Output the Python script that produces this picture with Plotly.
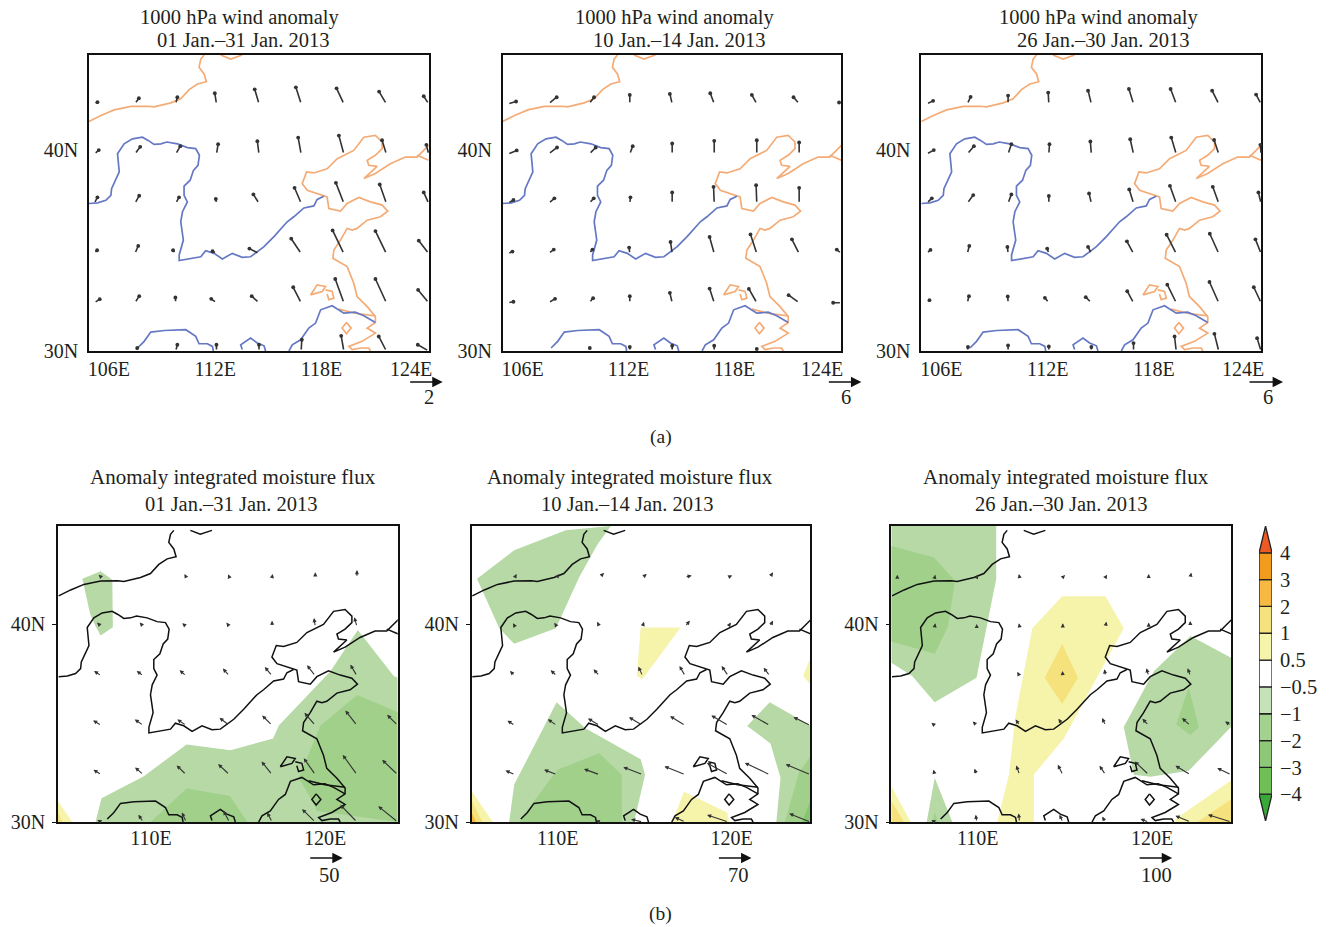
import plotly.graph_objects as go

W, H = 1330, 927
FIG_HEIGHT = 938
SERIF = "Liberation Serif"
INK = "#231f20"

# ---------- geography (lon, lat) ----------
BORDER_LON = [104.7,105.39,106.15,107.11,108.10,108.44,109.40,109.97,110.45,110.93,111.44,111.31,111.02,111.12,111.31]
BORDER_LAT = [41.42,41.72,42.0,42.17,42.18,42.15,42.35,42.55,43.01,43.29,43.40,43.79,44.12,44.53,44.73]
BORDER2_LON = [112.26,112.83,113.5]
BORDER2_LAT = [44.73,44.53,44.73]
COAST_LON = [124.2,123.53,122.86,122.0,121.14,120.48,121.24,120.76,120.67,121.14,121.53,121.53,121.14,120.48,119.9,118.95,118.37,117.61,117.19,116.94,117.23,118.18,118.37,118.47,119.14,119.52,120.19,120.86,121.53,121.85,121.43,120.67,120.09,119.81,119.52,119.14,118.76,118.7,119.52,119.9,120.09,120.67,121.14,121.14,120.67,121.14,120.38,119.62,119.81,120.29,120.76,120.86]
COAST_LAT = [40.23,39.65,39.65,39.32,38.83,38.58,39.19,39.24,39.49,39.74,40.07,40.4,40.73,40.64,39.98,39.57,39.07,38.86,38.91,38.33,38.0,37.75,37.67,37.09,36.96,37.34,37.64,37.42,37.26,36.96,36.68,36.51,36.1,36.02,36.1,35.52,35.02,34.61,34.2,33.37,32.71,32.21,31.72,31.42,31.14,30.89,30.48,30.23,30.07,30.15,30.15,30.0]
YALU_LON = [124.2,123.81,123.53]
YALU_LAT = [39.49,39.65,39.74]
ESTUARY_LON = [119.04,119.98,121.14]
ESTUARY_LAT = [32.08,31.88,31.75]
HONGZE_LON = [117.42,117.8,118.28,118.09,117.42]
HONGZE_LAT = [32.79,33.29,33.21,32.96,32.79]
GAOYOU_LON = [118.28,118.66,118.76,118.47,118.37]
GAOYOU_LAT = [33.04,32.96,32.63,32.55,32.84]
TAIHU_LON = [119.48,119.75,119.48,119.23,119.48]
TAIHU_LAT = [31.42,31.14,30.86,31.14,31.42]
YELLOW_R_LON = [104.7,105.2,105.67,105.96,106.0,106.34,106.44,106.34,106.72,107.2,107.77,108.1,108.44,108.83,109.17,109.78,110.35,110.83,111.04,110.96,110.7,110.51,110.16,110.16,110.35,110.07,109.97,110.12,109.88,109.88,110.45,111.12,111.4,111.88,112.36,112.93,113.5,113.98,114.75,115.32,116.08,116.46,117.04,117.61,117.8,118.18]
YELLOW_R_LAT = [37.34,37.37,37.5,37.75,38.08,38.66,38.91,39.82,40.31,40.56,40.64,40.48,40.28,40.31,40.4,40.31,40.12,40.07,39.74,39.24,38.99,38.5,38.21,37.75,37.42,36.93,36.43,35.52,34.78,34.5,34.58,34.69,34.99,34.86,34.58,34.86,34.66,34.69,35.19,35.69,36.43,36.68,37.12,37.22,37.54,37.7]
YANGTZE1_LON = [107.49,107.87,108.25,109.02,110.26,110.83,111.02,111.5,111.79,111.84]
YANGTZE1_LAT = [30.15,30.48,30.94,31.02,31.06,30.73,30.36,30.36,30.23,30.0]
YANGTZE2_LON = [113.5,113.41,113.98,114.36,114.75,114.84]
YANGTZE2_LAT = [30.07,30.31,30.64,30.4,30.26,30.0]
YANGTZE3_LON = [116.18,116.37,116.85,117.13,117.32,117.71,118.0,118.66,119.33,119.98,120.48,121.14]
YANGTZE3_LAT = [30.0,30.31,30.56,30.89,31.14,31.39,32.05,32.25,31.88,31.93,31.75,31.42]

RIVERS = [(YELLOW_R_LON,YELLOW_R_LAT),(YANGTZE1_LON,YANGTZE1_LAT),(YANGTZE2_LON,YANGTZE2_LAT),(YANGTZE3_LON,YANGTZE3_LAT)]
COASTS = [(BORDER_LON,BORDER_LAT),(BORDER2_LON,BORDER2_LAT),(COAST_LON,COAST_LAT),(YALU_LON,YALU_LAT),(ESTUARY_LON,ESTUARY_LAT),(HONGZE_LON,HONGZE_LAT),(GAOYOU_LON,GAOYOU_LAT),(TAIHU_LON,TAIHU_LAT)]

# ---------- wind grid ----------
GRID_LAT_A = [42.3,39.8,37.35,34.85,32.4,30.0]
GRID_LON_A = [105.0,107.34,109.68,112.02,114.46,116.88,119.33,121.77,124.2]
GRID_LAT_B = [42.36,39.87,37.38,34.88,32.39,30.0]
GRID_LON_B = [105.0,107.15,109.56,112.02,114.5,116.95,119.43,121.82,124.16]

U_A1 = [[.2,.24,.1,-.1,-.26,-.32,-.44,-.44,-.3],[.28,.32,.28,.1,-.1,-.18,-.3,-.26,-.14],[.2,.26,.2,-.04,-.34,-.4,-.48,-.4,-.3],[.18,.2,-.16,-.24,-.58,-.6,-.68,-.66,-.6],[.34,.26,-.02,-.32,-.44,-.48,-.52,-.66,-.64],[0,.14,.1,0,0,.04,-.16,-.46,-.66]]
V_A1 = [[.1,.34,.4,.64,.88,1.0,.94,.74,.46],[.24,.44,.48,.6,.78,1.0,1.12,.84,.56],[.36,.46,.36,.26,.54,.94,1.24,1.14,.66],[.2,.46,.2,.14,.3,.9,1.4,1.36,.78],[.22,.4,.32,.24,.4,.94,1.44,1.44,.78],[0,.18,.38,.38,.38,.68,.92,.88,.38]]
U_A2 = [[1.5,1.5,.9,0,-.42,-.72,-.9,-1.02,-.42],[1.62,1.56,1.2,.54,0,0,0,0,0],[1.02,1.08,.84,.12,0,-.12,-.12,0,0],[.84,.96,.6,-.12,-.3,-.84,-1.14,-1.32,-.84],[1.02,1.2,.72,0,-.42,-.84,-1.44,-1.92,-1.5],[0,0,.12,0,0,0,0,0,0]]
V_A2 = [[.42,1.2,1.2,1.62,1.8,1.92,1.62,1.2,.24],[.66,1.2,1.2,1.44,1.92,2.4,2.52,2.1,0],[.6,.9,.9,1.08,1.98,3.0,3.3,2.82,0],[.36,.72,.72,1.08,2.1,3.0,3.48,2.58,.72],[.18,.72,.84,1.2,1.8,2.58,2.52,1.38,0],[0,0,.54,.72,.96,.96,.36,0,0]]
U_A3 = [[1.2,.6,0,-.12,-.6,-.84,-1.02,-1.2,-.9],[1.32,1.2,.6,.12,-.18,-.6,-.9,-.84,-.12],[.96,1.08,.6,0,-.42,-.78,-1.14,-1.08,-.48],[.72,.36,-.12,-.3,-.6,-1.2,-1.74,-1.62,-1.02],[.54,.3,-.06,-.72,-1.02,-1.14,-1.62,-1.68,-1.32],[0,.12,0,0,0,0,-.3,-.78,-.72]]
V_A3 = [[.54,1.26,1.5,2.04,2.4,2.7,2.7,2.4,1.68],[.72,1.44,1.8,1.8,2.28,2.7,3.0,2.58,1.68],[.9,1.5,1.62,1.32,1.8,2.52,3.18,3.0,1.98],[.66,1.38,1.2,.9,1.2,2.22,3.42,3.6,2.58],[.48,1.2,1.14,.9,1.02,2.1,3.3,3.78,2.82],[0,.72,1.02,.84,.72,1.44,2.64,3.12,2.34]]

U_B1 = [[0,-4,-3,-2.5,-2,1,0,0,0],[0,-6.5,-5.5,-6,-4.5,0,-2,-4,0],[0,-11,-10,-10,-10,-11,-12.5,-10,-2],[0,-12.5,-13,-13.5,-15,-15,-16.5,-17.5,-16],[0,-12,-12.5,-14.5,-17,-16,-17.5,-21.5,-23.5],[0,-6,-7.5,-6.5,-9,-7.5,-20,-25,-29.5]]
V_B1 = [[0,4,3,5,4.5,5,7.5,11,0],[0,6,6,5,6,9,13,14,0],[0,7.5,7.5,8.5,11,13.5,16,17,2.5],[0,7.5,9,9,11.5,15,19,22.5,16],[0,7.5,11,14,16,20,25,30,22.5],[0,3,11,14.5,17,14.5,19.5,26,24]]
U_B2 = [[0,3.5,5.6,9.8,9,14,8.4,7,0],[0,-4,-5,-5,3,10,5.6,7,0],[0,-10.5,-13,-12.6,-9,-12,-14,-13,-3.5],[0,-16,-19,-24.5,-29,-32,-36,-39,-36],[0,-20,-27,-33,-41,-44,-45.5,-53,-52.5],[0,0,0,-8,-24.5,-22,-45,0,-45]]
V_B2 = [[0,7,7,9.1,7,4,4,10.5,0],[0,7,8,10,10,12.6,8.4,12.6,0],[0,10.5,12,14,19.6,21,21,17.5,3.5],[0,10,13,14.7,17.5,19.6,21,22,17.5],[0,9,10.5,12,16,17.5,25,25,22],[0,0,0,3,6,10,15,0,18]]
U_B3 = [[0,2,4,-2,7,5,0,3,0],[0,2,0,-2,0,3,0,0,0],[0,-6,-5,-7,-1,-3,-7,-8,0],[0,-10,-12,-12,-13,-10,-19,-25,-18],[0,-4,-7,-10,-15,-18,-42,-45,-42],[0,-10,-3,-3,-10,-10,-25,-45,-70]]
V_B3 = [[8,8,8,10,7,8,10,14,0],[0,10,8,10,10,15,12,17,0],[0,7,7,12,15,20,23,23,0],[0,8,12,18,20,22,20,22,12],[0,15,18,28,30,27,40,27,20],[0,6,22,26,22,16,9,19,22]]

# ---------- shaded anomaly regions (level, lons, lats) ----------
SHADE_B1 = [
 ("-1", [106.06,107.11,107.78,107.81,107.11,106.78,106.5], [42.28,42.66,42.23,39.83,39.42,39.95,40.53]),
 ("-1", [106.82,107.16,109.59,112.04,114.56,117.01,117.34,118.96,120.3,121.87,123.93,124.16,124.16], [30,31.2,32.31,33.92,33.62,34.22,34.88,36.38,37.62,39.7,37.38,37.29,30]),
 ("-2", [109.98,112.04,114.53,115.52], [30,31.69,31.31,30]),
 ("-2", [118.48,118.96,119.73,121.83,124.16,124.16,119.54,119.15], [32.23,33.22,34.88,36.41,35.55,30,30.56,31.23]),
 ("1", [104.66,105.48,104.66], [31.06,30,30]),
 ("2", [104.66,104.9,104.66], [30.5,30,30]),
]
SHADE_B2 = [
 ("-1", [104.97,107.11,110.08,112.67,111.9,110.85,109.51,107.11,106.25], [42.28,43.72,44.73,44.95,44.02,42.36,39.78,39.0,39.78]),
 ("-1", [106.82,107.11,109.55,111.23,114.39,114.64,114.01], [30,31.89,36.05,34.72,33.17,32.39,30]),
 ("-2", [107.4,108.26,109.6,112,113.3,113.3], [30,31.06,32.64,33.47,32.39,30]),
 ("1", [114.39,116.69,114.49,114.17], [39.82,39.82,37.21,37.38]),
 ("1", [104.66,105.87,104.66], [31.56,30,30]),
 ("2", [104.66,105.29,104.66], [31.06,30,30]),
 ("3", [104.66,104.91,104.66], [30.48,30,30]),
 ("1", [116.21,116.88,119.37,119.47], [30,31.53,30.48,30]),
 ("1", [124.16,123.74,124.16], [38.29,37.38,36.96]),
 ("-1", [120.52,121.82,124.16,124.16,122.2,122.44,121.86], [34.85,36.05,34.88,30,30,32.23,33.97]),
 ("-2", [124.16,123.49,122.69,124.16], [33.31,32.48,30,30]),
 ("-3", [124.16,123.68,124.16], [31.06,30,30]),
]
SHADE_B3 = [
 ("-1", [104.66,110.68,110.68,109.59,109.55,107.15,105.86,104.66], [44.95,44.95,42.28,37.54,37.29,36.05,37.38,38.04]),
 ("-2", [104.66,107.11,108.31,107.91,107.15,104.66], [43.94,43.36,42.19,39.87,38.5,39.12]),
 ("1", [110.74,111.41,111.79,112.75,114.47,116.95,118.0,114.56,112.84,112.84], [30,32.39,35.38,39.78,41.4,41.4,39.78,34.22,32.39,30]),
 ("2", [114.47,115.37,114.47,113.46], [38.99,37.29,35.96,37.29]),
 ("-1", [118.0,119.73,121.83,124.16,124.16,121.73,119.54,118.58], [34.8,37.62,39.4,38.29,34.8,32.59,32.28,32.39]),
 ("-2", [121.73,122.31,121.83,121.01], [36.79,34.8,34.39,34.92]),
 ("-1", [106.69,107.15,108.16], [30,32.23,30]),
 ("-2", [107.01,107.15,107.34], [30,30.48,30]),
 ("1", [104.66,105.77,104.66], [31.81,30,30]),
 ("2", [104.66,105.39,104.66], [31.06,30,30]),
 ("1", [120.97,124.16,124.16,120.97], [30.15,32.09,30,30]),
 ("2", [122.23,124.16,124.16], [30,31.15,30]),
]
LEVEL_COLORS = {"-3":"#85c670","-2":"#a0d08a","-1":"#b6d9a6","1":"#f6f3aa","2":"#f6e27c","3":"#f7bb42"}

# ---------- colour bar ----------
BAR_COLORS = ["#38a836","#6fbe56","#8cc878","#a3d18e","#c6e2b8","#ffffff","#f6f3aa","#f6e27c","#f7b942","#f39b1d","#ee5a24"]
BAR_LABELS = ["\u22124","\u22123","\u22122","\u22121","\u22120.5","0.5","1","2","3","4"]

# ---------- panels ----------
TITLE_A = "1000 hPa wind anomaly"
TITLE_B = "Anomaly integrated moisture flux"
PERIODS = ["01 Jan.\u201331 Jan. 2013","10 Jan.\u201314 Jan. 2013","26 Jan.\u201330 Jan. 2013"]
BOX_A = [(88,428),(502,841),(921,1261)]
BOX_B = [(57,397),(471,810),(891,1231)]
TICKS_A = [105.85,111.95,118.05]
TICKS_B = [[110,120],[109.62,119.63],[109.62,119.63]]
REF_A = [2,6,6]
REF_B = [50,70,100]
REF_PX = 33

fig = go.Figure()
ann = []

def px_x(px):
    return px / W

def px_y(py):
    return 1 - py / H

def txt(s, px, py, size=20.5, xa="center"):
    ann.append(dict(text=s, x=px_x(px), y=px_y(py), xref="paper", yref="paper", xanchor=xa, yanchor="middle",
                    showarrow=False, font=dict(family=SERIF, size=size, color=INK)))

def ref_arrow(x0, x1, py):
    ann.append(dict(text="", x=px_x(x1), y=px_y(py), ax=x0-x1, ay=0, xref="paper", yref="paper", axref="pixel", ayref="pixel",
                    showarrow=True, arrowhead=2, arrowsize=1.6, arrowwidth=1.3, arrowcolor="#111"))

def panel(n, box, ytop, ybot, lonr, latr, xt, xl, yticklen, standoff, xstandoff):
    dx = [px_x(box[0]), px_x(box[1])]
    dy = [px_y(ybot), px_y(ytop)]
    sfx = "" if n == 1 else str(n)
    common = dict(showgrid=False, zeroline=False, showline=True, linecolor="#111", linewidth=1.5, mirror=True,
                  tickfont=dict(family=SERIF, size=20, color=INK), ticks="outside", tickcolor="#111", tickmode="array")
    fig.update_layout(**{
        "xaxis"+sfx: dict(domain=dx, range=lonr, anchor="y"+sfx, tickvals=xt, ticktext=xl, ticklen=0,
                          ticklabelstandoff=xstandoff, **common),
        "yaxis"+sfx: dict(domain=dy, range=latr, anchor="x"+sfx, tickvals=[30,40], ticktext=["30N","40N"], ticklen=yticklen,
                          ticklabelstandoff=standoff, **common),
    })
    return "x"+sfx, "y"+sfx

def lines(xa, ya, groups, color, w=1.7):
    for lon, lat in groups:
        fig.add_trace(go.Scatter(x=lon, y=lat, xaxis=xa, yaxis=ya, mode="lines", showlegend=False, hoverinfo="skip",
                                 line=dict(color=color, width=w)))

def shades(xa, ya, regions):
    for lev, lon, lat in regions:
        fig.add_trace(go.Scatter(x=lon, y=lat, xaxis=xa, yaxis=ya, mode="lines", fill="toself", showlegend=False,
                                 hoverinfo="skip", fillcolor=LEVEL_COLORS[lev], line=dict(width=0, color=LEVEL_COLORS[lev])))

def quiver(xa, ya, lons, lats, U, V, ref, pxlat, head, size, width):
    ppu = REF_PX / ref
    for j, la in enumerate(lats):
        for i, lo in enumerate(lons):
            u, v = U[j][i], V[j][i]
            if u == 0 and v == 0:
                continue
            ann.append(dict(text="", x=lo + u*ppu/17.43, y=la + v*ppu/pxlat, ax=lo, ay=la,
                            xref=xa, yref=ya, axref=xa, ayref=ya, showarrow=True,
                            arrowhead=head, arrowsize=size, arrowwidth=width, arrowcolor="#333333"))

UV_A = [(U_A1,V_A1),(U_A2,V_A2),(U_A3,V_A3)]
UV_B = [(U_B1,V_B1),(U_B2,V_B2),(U_B3,V_B3)]
SHADES = [SHADE_B1,SHADE_B2,SHADE_B3]

for k in range(3):
    xa, ya = panel(k+1, BOX_A[k], 55, 351, [104.7,124.2], [30,44.73], TICKS_A, ["106E","112E","118E"], 0, 5, -1)
    lines(xa, ya, COASTS, "#f4ab75")
    lines(xa, ya, RIVERS, "#6478c4")
    quiver(xa, ya, GRID_LON_A, GRID_LAT_A, *UV_A[k], REF_A[k], 20.1, 6, 0.6, 1.6)
    txt(TITLE_A, [239,674,1098][k], 18)
    txt(PERIODS[k], [243,679,1103][k], 40)
    txt("124E", [410,822,1243][k], 369, 20)
    ref_arrow([408,827,1248][k], [442,861,1283][k], 382)
    txt(str(REF_A[k]), [428,846,1268][k], 397)

for k in range(3):
    xa, ya = panel(k+4, BOX_B[k], 526, 822, [104.66,124.16], [30,44.95], TICKS_B[k], ["110E","120E"], 4, 3, -3)
    shades(xa, ya, SHADES[k])
    lines(xa, ya, COASTS + RIVERS, "#111111", 1.5)
    quiver(xa, ya, GRID_LON_B, GRID_LAT_B, *UV_B[k], REF_B[k], 19.8, 2, 0.75, 1.1)
    txt(TITLE_B, [232,629,1066][k], 477, 21)
    txt(PERIODS[k], [231,627,1061][k], 504)
    ref_arrow([308,717,1138][k], [342,751,1172][k], 858)
    txt(str(REF_B[k]), [329,738,1156][k], 875)

txt("(a)", 660, 437, 19.5)
txt("(b)", 660, 914, 19.5)

# colour bar as a small subplot with a real axis
fig.update_layout(
    xaxis7=dict(domain=[px_x(1259),px_x(1272)], range=[0,1], anchor="y7", visible=False),
    yaxis7=dict(domain=[px_y(821),px_y(526)], range=[0,11], anchor="x7", side="right", showgrid=False, zeroline=False,
                showline=False, ticks="", ticklen=0, tickmode="array", tickvals=list(range(1,11)), ticktext=BAR_LABELS,
                ticklabelstandoff=7, tickfont=dict(family=SERIF, size=20.5, color=INK)),
)
for i, col in enumerate(BAR_COLORS):
    if i == 0:
        xs, ys = [0,0.5,1,0], [1,0,1,1]
    elif i == len(BAR_COLORS)-1:
        xs, ys = [0,0.5,1,0], [i,i+1,i,i]
    else:
        xs, ys = [0,1,1,0,0], [i,i,i+1,i+1,i]
    fig.add_trace(go.Scatter(x=xs, y=ys, xaxis="x7", yaxis="y7", mode="lines", fill="toself", fillcolor=col,
                             line=dict(color="#222", width=1.3), showlegend=False, hoverinfo="skip", cliponaxis=False))

fig.update_layout(width=W, height=FIG_HEIGHT, margin=dict(l=0,r=0,t=0,b=0), paper_bgcolor="white", plot_bgcolor="white",
                  showlegend=False, annotations=ann)
fig.write_html("out.html", config={"displayModeBar": False}, post_script="document.body.style.margin='0';")
